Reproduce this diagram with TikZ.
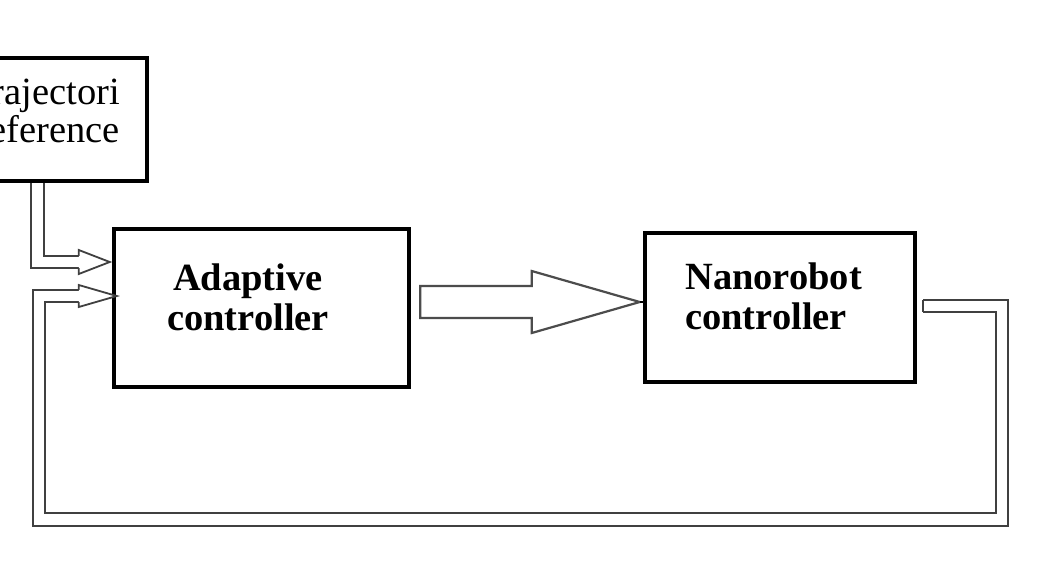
\documentclass[tikz,border=0pt]{standalone}
\usepackage{fontspec}
\setmainfont{Liberation Serif}
\usetikzlibrary{calc}
\begin{document}
\begin{tikzpicture}[x=1pt,y=-1pt,
  blockbox/.style={draw=black, line width=4.5pt, fill=white, inner sep=0pt},
  boldlbl/.style={font=\fontsize{38.5}{40}\selectfont\bfseries, inner sep=0pt},
  reglbl/.style={font=\fontsize{38.5}{38}\selectfont, inner sep=0pt},
  pipe/.style={draw=black!75, line width=1.8pt, double=white, double distance=10.5pt, line join=miter},
  edgeline/.style={draw=black!75, line width=1.8pt},
  hollowhead/.style={draw=black!75, line width=1.8pt, fill=white, line join=miter},
  bigarrow/.style={draw=black!70, line width=2.2pt, fill=white, line join=miter}]
\useasboundingbox (0,0) rectangle (1038,576);
\fill[white] (0,0) rectangle (1038,576);

% blocks
\node[blockbox, minimum width=167pt, minimum height=123pt] (traj) at (63.5,119.5) {};
\node[reglbl, align=right, anchor=east] (trajlbl) at (120,111) {Trajectori\\reference};
\node[blockbox, minimum width=295pt, minimum height=158pt] (adapt) at (261.5,308) {};
\node[boldlbl, align=center] (adaptlbl) at (248,297) {Adaptive\\controller};
\node[blockbox, minimum width=270pt, minimum height=149pt] (nano) at (780,307.5) {};
\node[boldlbl, align=left, anchor=west] (nanolbl) at (685,296) {Nanorobot\\controller};

% reference -> adaptive controller
\coordinate (p1) at (37.5,0);
\coordinate (tip1) at ($(adapt.west)+(-2,-46)$);
\coordinate (base1) at ($(tip1)+(-31,0)$);
\draw[pipe] (traj.south -| p1) |- (base1);
\draw[hollowhead] ($(base1)+(0,-6.15)$) -- ($(base1)+(0,-12)$) -- (tip1)
  -- ($(base1)+(0,12)$) -- ($(base1)+(0,6.15)$);

% adaptive -> nanorobot
\coordinate (ba0) at ($(adapt.east)+(9,-6)$);
\coordinate (batip) at ($(nano.west)+(-3,-5.5)$);
\draw[bigarrow] ($(ba0)+(0,-16)$) -- ($(batip)+(-108,-16)$) -- ($(batip)+(-108,-31)$)
  -- (batip) -- ($(batip)+(-108,31)$) -- ($(batip)+(-108,16)$) -- ($(ba0)+(0,16)$) -- cycle;
\draw[line width=2pt] (batip) -- (nano.west |- batip);

% feedback nanorobot -> adaptive controller
\coordinate (fbstart) at ($(nano.east)+(6,-1.5)$);
\coordinate (fbright) at (1002,519.5);
\coordinate (fbleft) at (39,519.5);
\coordinate (tip2) at ($(adapt.west)+(5,-12)$);
\coordinate (base2) at ($(tip2)+(-38,0)$);
\draw[pipe] (fbstart) -| (fbright) -- (fbleft) |- (base2);
\draw[edgeline] ($(fbstart)+(0,-6.15)$) -- ($(fbstart)+(0,6.15)$);
\draw[hollowhead] ($(base2)+(0,-6.15)$) -- ($(base2)+(0,-11)$) -- (tip2)
  -- ($(base2)+(0,11)$) -- ($(base2)+(0,6.15)$);
\end{tikzpicture}
\end{document}
